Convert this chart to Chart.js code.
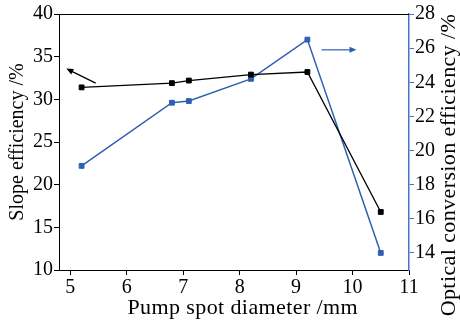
<!DOCTYPE html>
<html>
<head>
<meta charset="utf-8">
<script src="https://cdn.jsdelivr.net/npm/chart.js@4.4.1/dist/chart.umd.min.js"></script>
<style>
  html, body { margin: 0; padding: 0; background: #fff; }
  #wrap { width: 460px; height: 325px; }
</style>
</head>
<body>
<div id="wrap"><canvas id="c" width="460" height="325"></canvas></div>
<script>
// ---- data ----
const pumpSpotDiameter = [5.2, 6.8, 7.1, 8.2, 9.2, 10.5];
const slopeEfficiency = [31.4, 31.9, 32.2, 32.9, 33.2, 16.8];
const opticalConversionEfficiency = [19.1, 22.8, 22.9, 24.2, 26.5, 14.0];
const xTickValues = [5, 6, 7, 8, 9, 10, 11];
const leftTickValues = [10, 15, 20, 25, 30, 35, 40];
const rightTickValues = [14, 16, 18, 20, 22, 24, 26, 28];
const xTitle = 'Pump spot diameter /mm';
const leftTitle = 'Slope efficiency /%';
const rightTitle = 'Optical conversion efficiency /%';
// annotation arrows: [fromX, fromY, toX, toY] in data units
const slopeArrow = [5.45, 31.9, 4.93, 33.6];
const opticalArrow = [9.45, 25.9, 10.07, 25.9];

const BLACK = '#000000';
const BLUE = '#2f5fb4';
const AXIS_BLUE = '#4a72c2';
const FONT = '"Liberation Serif", "DejaVu Serif", serif';

function drawArrow(ctx, x1, y1, x2, y2, color) {
  const ang = Math.atan2(y2 - y1, x2 - x1);
  const hl = 7, hw = 3;
  ctx.save();
  ctx.strokeStyle = color;
  ctx.fillStyle = color;
  ctx.lineWidth = 1.2;
  ctx.beginPath();
  ctx.moveTo(x1, y1);
  ctx.lineTo(x2 - Math.cos(ang) * hl * 0.8, y2 - Math.sin(ang) * hl * 0.8);
  ctx.stroke();
  ctx.beginPath();
  ctx.moveTo(x2, y2);
  ctx.lineTo(x2 - hl * Math.cos(ang) + hw * Math.sin(ang), y2 - hl * Math.sin(ang) - hw * Math.cos(ang));
  ctx.lineTo(x2 - hl * Math.cos(ang) - hw * Math.sin(ang), y2 - hl * Math.sin(ang) + hw * Math.cos(ang));
  ctx.closePath();
  ctx.fill();
  ctx.restore();
}

const extras = {
  id: 'extras',
  afterDraw(chart) {
    const {ctx, chartArea, scales} = chart;
    ctx.save();
    ctx.strokeStyle = BLACK;
    ctx.lineWidth = 1;
    ctx.beginPath();
    ctx.moveTo(chartArea.left, chartArea.top + 0.5);
    ctx.lineTo(chartArea.right, chartArea.top + 0.5);
    ctx.stroke();
    ctx.restore();
    const x = scales.x, y = scales.y, y2 = scales.y2;
    drawArrow(ctx, x.getPixelForValue(slopeArrow[0]), y.getPixelForValue(slopeArrow[1]),
      x.getPixelForValue(slopeArrow[2]), y.getPixelForValue(slopeArrow[3]), BLACK);
    drawArrow(ctx, x.getPixelForValue(opticalArrow[0]), y2.getPixelForValue(opticalArrow[1]),
      x.getPixelForValue(opticalArrow[2]), y2.getPixelForValue(opticalArrow[3]), BLUE);

    // axis titles
    ctx.save();
    ctx.fillStyle = BLACK;
    ctx.textAlign = 'center';
    ctx.textBaseline = 'middle';
    ctx.font = '22px ' + FONT;
    try { ctx.letterSpacing = '0.4px'; } catch (e) {}
    ctx.fillText(xTitle, chartArea.left + (chartArea.right - chartArea.left) * 0.525, chart.height - 17);
    ctx.save();
    ctx.translate(chart.width - 11, chartArea.top + (chartArea.bottom - chartArea.top) * 0.59);
    ctx.rotate(-Math.PI / 2);
    ctx.fillText(rightTitle, 0, 0);
    ctx.restore();
    ctx.restore();
  }
};

const tickFont = { family: FONT, size: 20 };
const titleFont = { family: FONT, size: 20 };

new Chart(document.getElementById('c'), {
  type: 'line',
  data: {
    datasets: [
      {
        label: leftTitle,
        data: pumpSpotDiameter.map((v, i) => ({ x: v, y: slopeEfficiency[i] })),
        yAxisID: 'y',
        borderColor: BLACK,
        backgroundColor: BLACK,
        borderWidth: 1.3,
        pointStyle: 'rect',
        pointRadius: 3.4,
        pointBorderWidth: 1,
        tension: 0
      },
      {
        label: rightTitle,
        data: pumpSpotDiameter.map((v, i) => ({ x: v, y: opticalConversionEfficiency[i] })),
        yAxisID: 'y2',
        borderColor: BLUE,
        backgroundColor: BLUE,
        borderWidth: 1.5,
        pointStyle: 'rect',
        pointRadius: 3.4,
        pointBorderWidth: 1,
        tension: 0
      }
    ]
  },
  options: {
    responsive: false,
    devicePixelRatio: 1,
    animation: false,
    layout: { padding: { top: 14, left: 0, right: 0, bottom: 0 } },
    plugins: { legend: { display: false }, tooltip: { enabled: false } },
    scales: {
      x: {
        type: 'linear',
        position: 'bottom',
        min: 4.8,
        max: 11,
        afterBuildTicks: s => { s.ticks = xTickValues.map(v => ({ value: v })); },
        afterFit: s => { s.height = 55; },
        grid: { drawOnChartArea: false, drawTicks: true, tickLength: 5, color: BLACK },
        border: { color: BLACK, width: 1 },
        ticks: { color: BLACK, font: tickFont, padding: 1, maxRotation: 0, autoSkip: false },
        title: { display: false }
      },
      y: {
        type: 'linear',
        position: 'left',
        min: 10,
        max: 40,
        afterBuildTicks: s => { s.ticks = leftTickValues.map(v => ({ value: v })); },
        afterFit: s => { s.width = 59; },
        grid: { drawOnChartArea: false, drawTicks: true, tickLength: 5, color: BLACK },
        border: { color: BLACK, width: 1 },
        ticks: { color: BLACK, font: tickFont, padding: 1 },
        title: { display: true, text: leftTitle, color: BLACK, font: titleFont, padding: { top: 6, bottom: 0 } }
      },
      y2: {
        type: 'linear',
        position: 'right',
        min: 13,
        max: 28,
        afterBuildTicks: s => { s.ticks = rightTickValues.map(v => ({ value: v })); },
        afterFit: s => { s.width = 51; },
        grid: { drawOnChartArea: false, drawTicks: true, tickLength: 5, color: AXIS_BLUE },
        border: { color: AXIS_BLUE, width: 1.5 },
        ticks: { color: BLACK, font: tickFont, padding: 1 },
        title: { display: false }
      }
    }
  },
  plugins: [extras]
});
</script>
</body>
</html>
